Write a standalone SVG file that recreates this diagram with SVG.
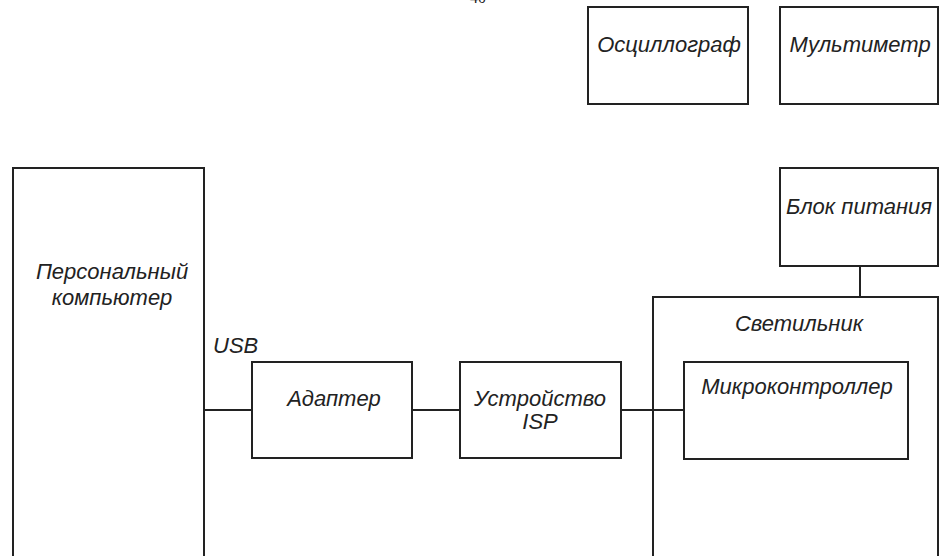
<svg xmlns="http://www.w3.org/2000/svg" width="940" height="556" viewBox="0 0 940 556">
<style>
.box{fill:none;stroke:#222;stroke-width:2}
.ln{stroke:#222;stroke-width:2;fill:none}
.t{font-family:"Liberation Sans",Arial,sans-serif;font-style:italic;font-size:22px;fill:#222;text-anchor:middle}
.pg{font-family:"Liberation Serif",serif;font-size:16px;fill:#222;text-anchor:middle}
</style>
<rect width="940" height="556" fill="#fff"/>
<text class="pg" x="478" y="3">40</text>
<g id="oscilloscope"><rect class="box" x="588" y="7" width="160" height="97"/><text class="t" x="669" y="52">Осциллограф</text></g>
<g id="multimeter"><rect class="box" x="780" y="7" width="158" height="97"/><text class="t" x="860" y="52">Мультиметр</text></g>
<g id="pc"><rect class="box" x="13" y="168" width="191" height="400"/><text class="t" x="112" y="279">Персональный</text><text class="t" x="112" y="305">компьютер</text></g>
<g id="adapter"><rect class="box" x="252" y="362" width="160" height="96"/><text class="t" x="334" y="406">Адаптер</text></g>
<g id="isp"><rect class="box" x="460" y="362" width="161" height="96"/><text class="t" x="540" y="406">Устройство</text><text class="t" x="540" y="429">ISP</text></g>
<g id="power"><rect class="box" x="780" y="168" width="158" height="98"/><text class="t" x="859" y="214">Блок питания</text></g>
<g id="lamp"><rect class="box" x="653" y="297" width="285" height="270"/><text class="t" x="799" y="331">Светильник</text></g>
<g id="mcu"><rect class="box" x="684" y="362" width="224" height="97"/><text class="t" x="797" y="394">Микроконтроллер</text></g>
<g id="connectors">
<line class="ln" x1="204" y1="410" x2="252" y2="410"/>
<line class="ln" x1="412" y1="410" x2="460" y2="410"/>
<line class="ln" x1="621" y1="410" x2="684" y2="410"/>
<line class="ln" x1="860" y1="266" x2="860" y2="297"/>
<text class="t" x="213" y="353" style="text-anchor:start">USB</text>
</g>
</svg>
